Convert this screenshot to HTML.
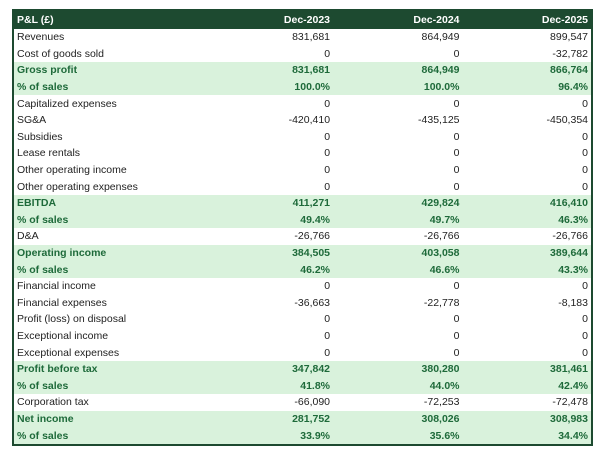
<!DOCTYPE html>
<html><head><style>
body{margin:0;background:#fff;width:600px;height:458px;overflow:hidden;font-family:"Liberation Sans",sans-serif;}
table{position:absolute;left:12px;top:9px;width:581px;border-collapse:collapse;border:2px solid #1d4a30;font-size:10.5px;color:#222;}
td{height:16.6px;padding:0 3px;white-space:nowrap;line-height:16px;}
td.n{text-align:right;}
tr.h td{background:#1d4a30;color:#fff;font-weight:bold;height:18px;}
tr.g td{background:#d9f2dc;color:#1e6a3a;font-weight:bold;}
</style></head><body>
<table>
<colgroup><col style="width:190px"><col style="width:131px"><col style="width:130px"><col style="width:130px"></colgroup>
<tr class="h"><td>P&amp;L (£)</td><td class="n">Dec-2023</td><td class="n">Dec-2024</td><td class="n">Dec-2025</td></tr>
<tr><td>Revenues</td><td class="n">831,681</td><td class="n">864,949</td><td class="n">899,547</td></tr>
<tr><td>Cost of goods sold</td><td class="n">0</td><td class="n">0</td><td class="n">-32,782</td></tr>
<tr class="g"><td>Gross profit</td><td class="n">831,681</td><td class="n">864,949</td><td class="n">866,764</td></tr>
<tr class="g"><td>% of sales</td><td class="n">100.0%</td><td class="n">100.0%</td><td class="n">96.4%</td></tr>
<tr><td>Capitalized expenses</td><td class="n">0</td><td class="n">0</td><td class="n">0</td></tr>
<tr><td>SG&amp;A</td><td class="n">-420,410</td><td class="n">-435,125</td><td class="n">-450,354</td></tr>
<tr><td>Subsidies</td><td class="n">0</td><td class="n">0</td><td class="n">0</td></tr>
<tr><td>Lease rentals</td><td class="n">0</td><td class="n">0</td><td class="n">0</td></tr>
<tr><td>Other operating income</td><td class="n">0</td><td class="n">0</td><td class="n">0</td></tr>
<tr><td>Other operating expenses</td><td class="n">0</td><td class="n">0</td><td class="n">0</td></tr>
<tr class="g"><td>EBITDA</td><td class="n">411,271</td><td class="n">429,824</td><td class="n">416,410</td></tr>
<tr class="g"><td>% of sales</td><td class="n">49.4%</td><td class="n">49.7%</td><td class="n">46.3%</td></tr>
<tr><td>D&amp;A</td><td class="n">-26,766</td><td class="n">-26,766</td><td class="n">-26,766</td></tr>
<tr class="g"><td>Operating income</td><td class="n">384,505</td><td class="n">403,058</td><td class="n">389,644</td></tr>
<tr class="g"><td>% of sales</td><td class="n">46.2%</td><td class="n">46.6%</td><td class="n">43.3%</td></tr>
<tr><td>Financial income</td><td class="n">0</td><td class="n">0</td><td class="n">0</td></tr>
<tr><td>Financial expenses</td><td class="n">-36,663</td><td class="n">-22,778</td><td class="n">-8,183</td></tr>
<tr><td>Profit (loss) on disposal</td><td class="n">0</td><td class="n">0</td><td class="n">0</td></tr>
<tr><td>Exceptional income</td><td class="n">0</td><td class="n">0</td><td class="n">0</td></tr>
<tr><td>Exceptional expenses</td><td class="n">0</td><td class="n">0</td><td class="n">0</td></tr>
<tr class="g"><td>Profit before tax</td><td class="n">347,842</td><td class="n">380,280</td><td class="n">381,461</td></tr>
<tr class="g"><td>% of sales</td><td class="n">41.8%</td><td class="n">44.0%</td><td class="n">42.4%</td></tr>
<tr><td>Corporation tax</td><td class="n">-66,090</td><td class="n">-72,253</td><td class="n">-72,478</td></tr>
<tr class="g"><td>Net income</td><td class="n">281,752</td><td class="n">308,026</td><td class="n">308,983</td></tr>
<tr class="g"><td>% of sales</td><td class="n">33.9%</td><td class="n">35.6%</td><td class="n">34.4%</td></tr>
</table>
</body></html>
